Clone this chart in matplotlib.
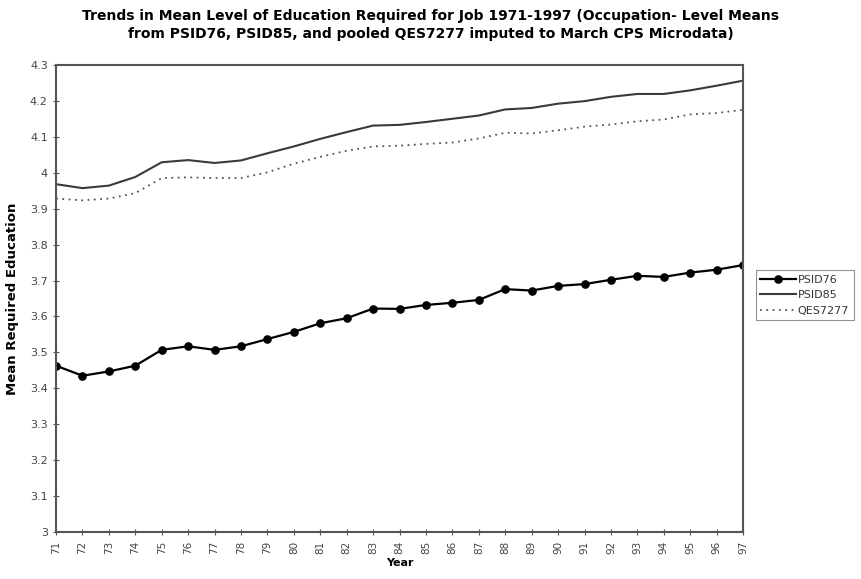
import matplotlib
matplotlib.use('Agg')
import matplotlib.pyplot as plt
import numpy as np

plt.rcParams['font.family'] = ['DejaVu Sans']

# years shown as two-digit labels
years = list(range(1971, 1998))
year_labels = [str(y)[2:] for y in years]

psid76 = [3.463, 3.435, 3.447, 3.463, 3.507, 3.517, 3.507, 3.517, 3.537,
          3.557, 3.581, 3.595, 3.622, 3.621, 3.632, 3.638, 3.646, 3.676,
          3.672, 3.685, 3.690, 3.702, 3.713, 3.710, 3.722, 3.730, 3.743]

psid85 = [3.968, 3.957, 3.964, 3.988, 4.029, 4.035, 4.027, 4.034, 4.054,
          4.073, 4.094, 4.113, 4.131, 4.133, 4.141, 4.150, 4.159, 4.176,
          4.180, 4.192, 4.199, 4.211, 4.219, 4.219, 4.229, 4.242, 4.256]

qes7277 = [3.928, 3.923, 3.928, 3.943, 3.985, 3.987, 3.985, 3.985, 4.001,
           4.025, 4.044, 4.061, 4.073, 4.075, 4.080, 4.084, 4.095, 4.111,
           4.109, 4.118, 4.128, 4.134, 4.143, 4.148, 4.162, 4.166, 4.175]

fig = plt.figure(figsize=(8.62, 5.79), dpi=100)
ax = fig.add_axes([0.065, 0.081, 0.797, 0.807])

ax.plot(years, psid76, color='black', lw=1.6, marker='o', markersize=5.2,
        label='PSID76')
ax.plot(years, psid85, color='#3a3a3a', lw=1.5, label='PSID85')
ax.plot(years, qes7277, color='#555555', lw=1.3, linestyle=(0, (1, 2.5)),
        label='QES7277')

ax.set_xlim(years[0], years[-1])
ax.set_ylim(3, 4.3)
ax.set_xticks(years)
ax.set_xticklabels(year_labels, rotation=90, fontsize=7.5, color='#444444')
yt = np.round(np.arange(3, 4.31, 0.1), 1)
ax.set_yticks(yt)
ax.set_yticklabels([f'{v:g}' for v in yt], fontsize=8, color='#444444')
ax.tick_params(direction='inout', length=5, width=0.8, color='#555555')

for s in ax.spines.values():
    s.set_color('#555555')
    s.set_linewidth(1.5)

ax.set_xlabel('Year', fontsize=8, fontweight='bold', labelpad=3)
ax.set_ylabel('Mean Required Education', fontsize=9.5, fontweight='bold',
              labelpad=8)

fig.suptitle('Trends in Mean Level of Education Required for Job 1971-1997 '
             '(Occupation- Level Means\nfrom PSID76, PSID85, and pooled '
             'QES7277 imputed to March CPS Microdata)',
             x=0.5, y=0.985, fontsize=10, fontweight='bold',
             linespacing=1.4)

leg = ax.legend(loc='center left', bbox_to_anchor=(1.015, 0.507),
                fontsize=8, frameon=True, fancybox=False,
                edgecolor='#777777', handlelength=3.2, borderpad=0.4,
                labelspacing=0.5, handletextpad=0.2, borderaxespad=0.2)
leg.get_frame().set_linewidth(0.8)
for t in leg.get_texts():
    t.set_color('#333333')

fig.savefig('out.png', dpi=100)
